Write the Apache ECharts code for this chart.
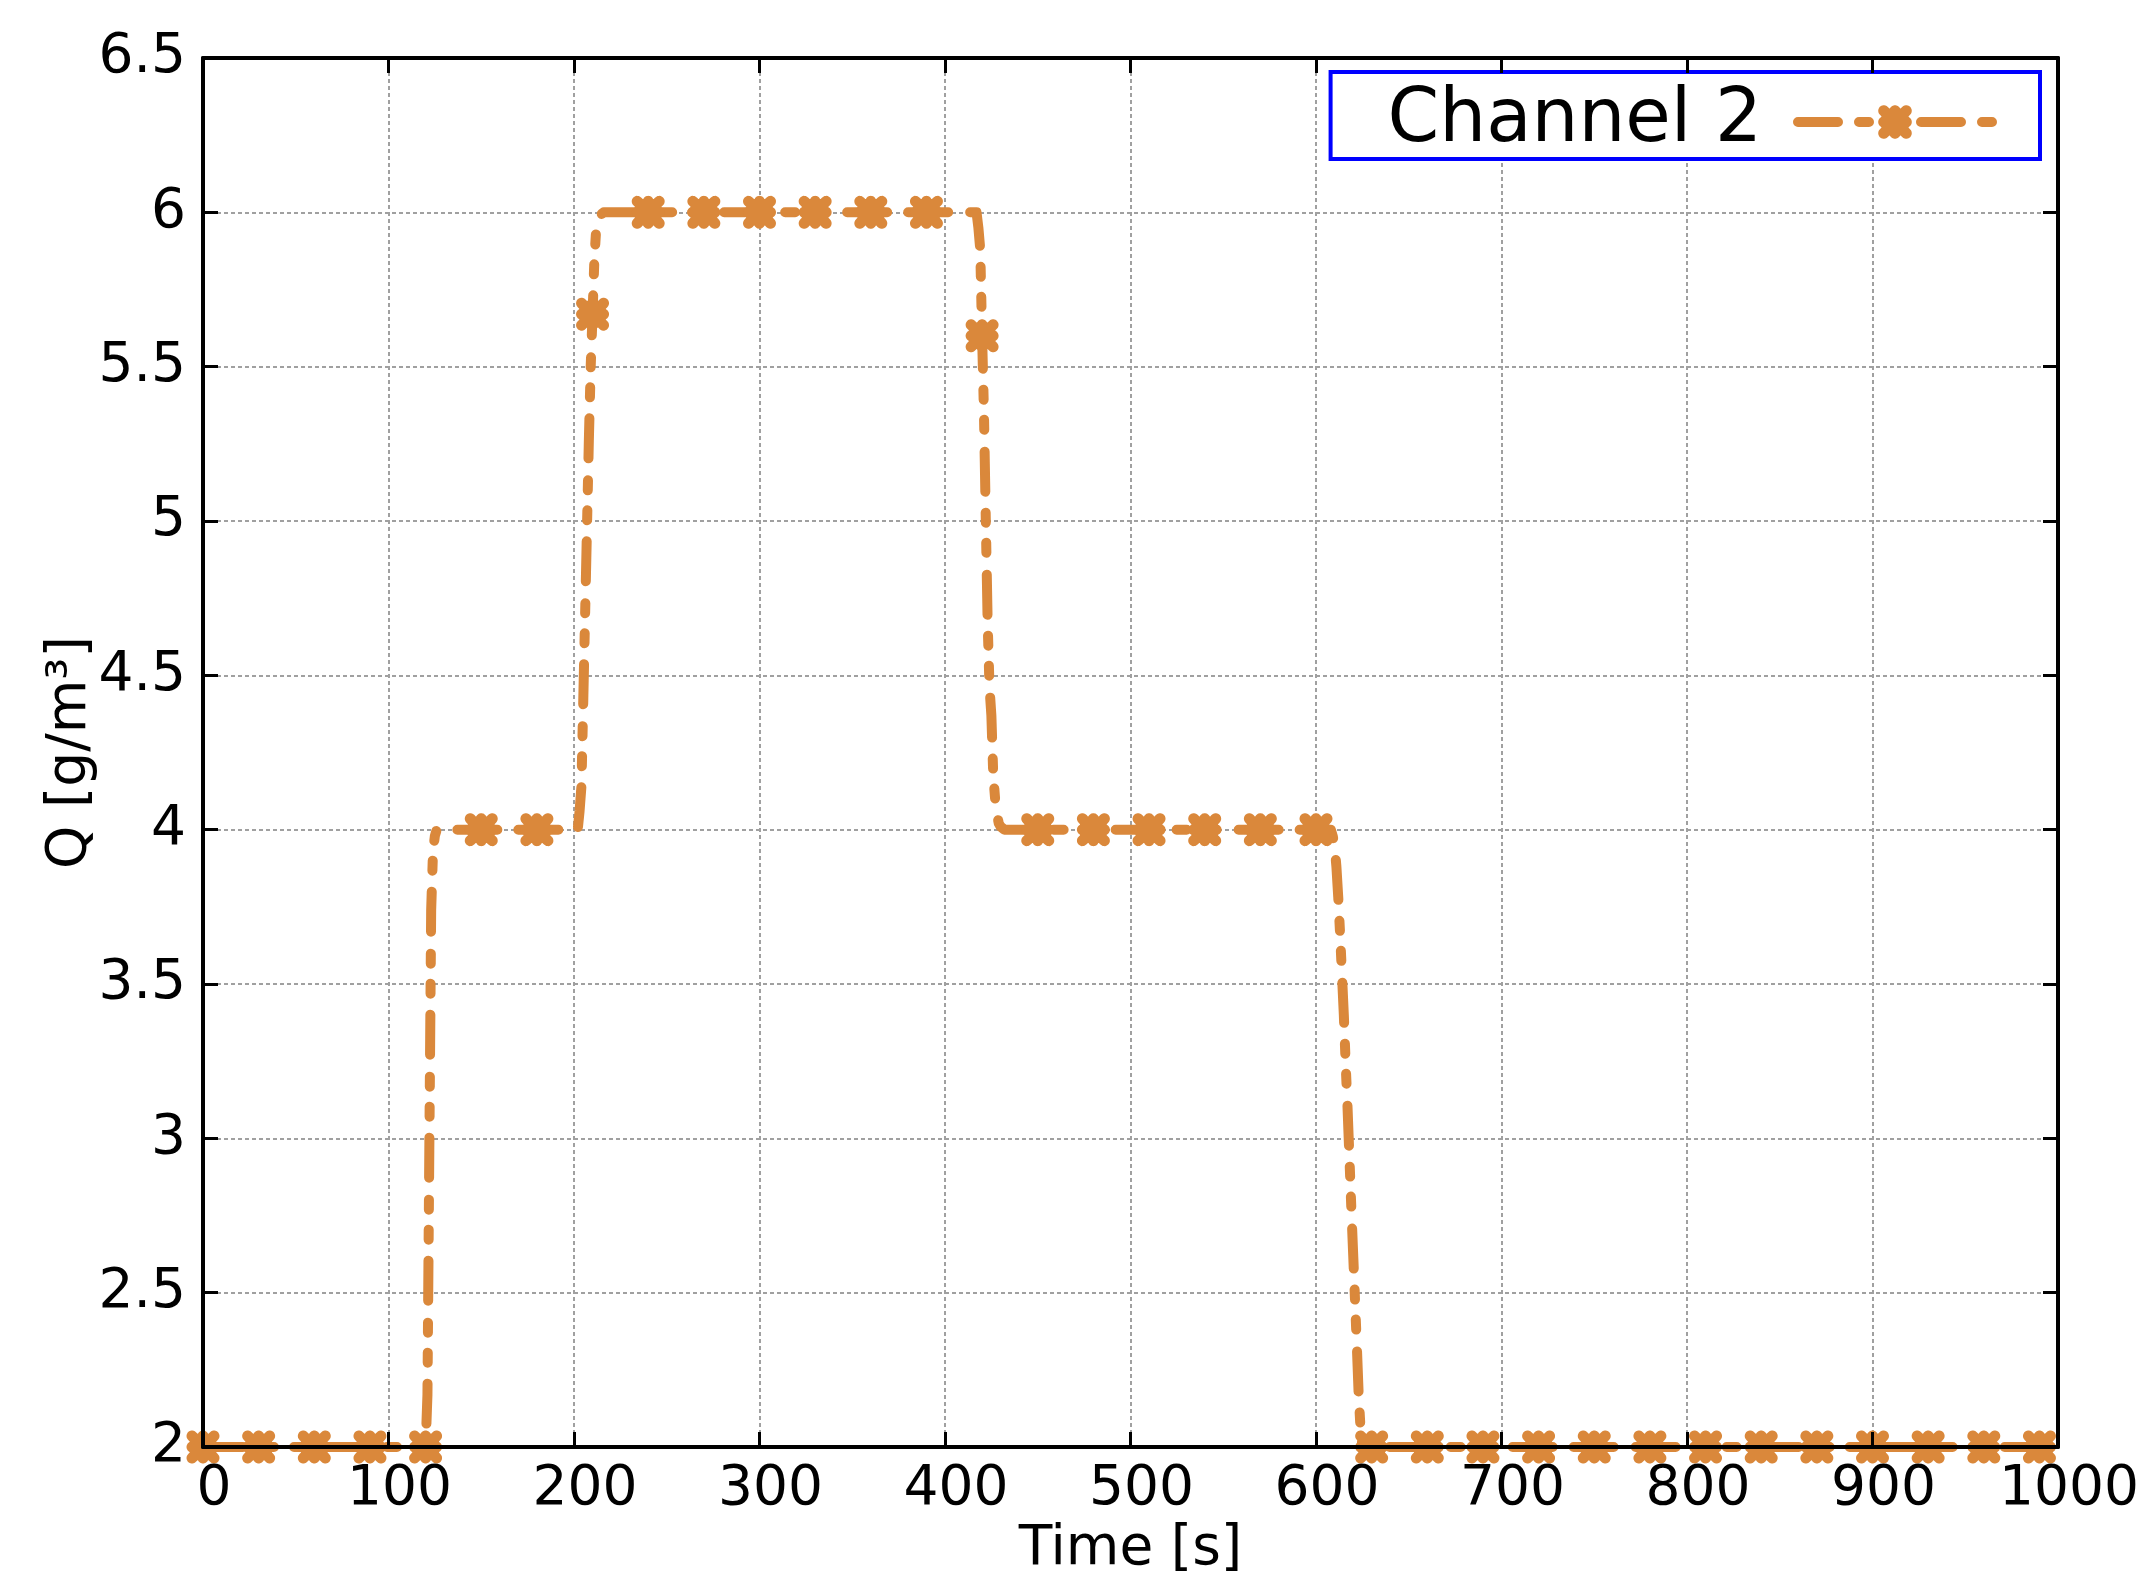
<!DOCTYPE html>
<html>
<head>
<meta charset="utf-8">
<title>Channel 2</title>
<script src="https://cdn.jsdelivr.net/npm/echarts@6/dist/echarts.min.js"></script>
<style>
html, body { margin: 0; padding: 0; background: #fff; }
#main { width: 2155px; height: 1590px; }
</style>
</head>
<body>
<div id="main"></div>
<script>
// Time [s] and Q [g/m3]
var time = [0, 30, 60, 90, 120, 121, 122, 123, 124, 125, 126, 150, 180,
  202, 203, 204, 205, 206, 207, 208, 209, 210, 211, 212, 213, 214, 216,
  240, 270, 300, 330, 360, 390,
  417, 418, 419, 420, 421, 422, 423, 424, 425, 426, 427, 428, 429, 430, 432,
  450, 480, 510, 540, 570, 600,
  608, 609, 610, 611, 612, 613, 614, 615, 616, 617, 618, 619, 620, 621, 622, 623, 624, 625,
  630, 660, 690, 720, 750, 780, 810, 840, 870, 900, 930, 960, 990, 1000];
var q = [2, 2, 2, 2, 2, 2.17, 2.96, 3.74, 3.93, 3.98, 4, 4, 4,
  4, 4.06, 4.14, 4.42, 4.70, 4.98, 5.26, 5.50, 5.67, 5.85, 5.95, 5.98, 5.99, 6,
  6, 6, 6, 6, 6, 6,
  6, 5.95, 5.88, 5.6, 5.35, 5.0, 4.67, 4.46, 4.37, 4.18, 4.1, 4.05, 4.02, 4.01, 4,
  4, 4, 4, 4, 4, 4,
  4, 3.98, 3.95, 3.88, 3.78, 3.66, 3.53, 3.4, 3.24, 3.1, 2.94, 2.78, 2.63, 2.48, 2.33, 2.17, 2.06, 2,
  2, 2, 2, 2, 2, 2, 2, 2, 2, 2, 2, 2, 2, 2];
var markerStep = 30;   // gnuplot pointinterval: one marker every 30 s

var orange = '#da883b';
var font = 'DejaVu Sans';
var dash = [40, 21, 10, 20, 10, 22];

// gnuplot '*' point: + and x drawn with thick round-capped strokes.
// Trace the outline of that union as one polygon (arm half-length 11, cap radius 5.5).
function starPath() {
  var arms = [[11, 0], [11, 11], [0, 11], [-11, 11], [-11, 0], [-11, -11], [0, -11], [11, -11]];
  var r2 = 5.5 * 5.5;
  function inside(x, y) {
    for (var k = 0; k < arms.length; k++) {
      var px = arms[k][0], py = arms[k][1];
      var s = Math.max(0, Math.min(1, (x * px + y * py) / (px * px + py * py)));
      var dx = x - s * px, dy = y - s * py;
      if (dx * dx + dy * dy <= r2) return true;
    }
    return false;
  }
  var pts = [];
  for (var a = 0; a < 144; a++) {
    var th = a / 144 * 2 * Math.PI, c = Math.cos(th), sn = Math.sin(th), r = 24;
    while (r > 0 && !inside(r * c, r * sn)) r -= 0.05;
    pts.push((17 + r * c).toFixed(2) + ',' + (17 + r * sn).toFixed(2));
  }
  return 'path://M' + pts.join('L') + 'Z';
}
var star = starPath();

var data = time.map(function (t, i) {
  if (t % markerStep === 0 && t < 1000) return [t, q[i]];
  return { value: [t, q[i]], symbol: 'none' };
});

var frameLine = { show: true, onZero: false, lineStyle: { color: '#000', width: 4 } };
var frameTick = { show: true, inside: true, length: 15, lineStyle: { color: '#000', width: 3 } };
var grid = { show: true, lineStyle: { color: '#a0a0a0', width: 2, type: [4, 3] } };
var labelFont = { fontFamily: font, fontSize: 55, color: '#000' };

function xAx(pos, z, extra) {
  return Object.assign({
    type: 'value', min: 0, max: 1000, interval: 100, position: pos, z: z,
    axisLine: { show: false }, axisTick: { show: false },
    axisLabel: { show: false }, splitLine: { show: false }
  }, extra);
}
function yAx(pos, z, extra) {
  return Object.assign({
    type: 'value', min: 2, max: 6.5, interval: 0.5, position: pos, z: z,
    axisLine: { show: false }, axisTick: { show: false },
    axisLabel: { show: false }, splitLine: { show: false }
  }, extra);
}

var myChart = echarts.init(document.getElementById('main'));
myChart.setOption({
  animation: false,
  backgroundColor: '#fff',
  grid: { left: 203, top: 58, right: 97, bottom: 143, containLabel: false },
  legend: {
    data: ['Channel 2'],
    right: 115, top: 72,
    align: 'right',
    selectedMode: false,
    backgroundColor: '#fff',
    borderColor: '#0000ff', borderWidth: 4, borderRadius: 0,
    padding: [13, 43, 0, 57],
    itemWidth: 194, itemHeight: 42,
    textStyle: { fontFamily: font, fontSize: 74, lineHeight: 68, color: '#000', padding: [0, 31, 0, 0] },
    lineStyle: { color: orange, width: 10, type: dash, cap: 'round', join: 'round' },
    itemStyle: { color: orange, borderWidth: 0 }
  },
  xAxis: [
    xAx('bottom', 0, { splitLine: grid }),
    xAx('bottom', 10, {
      axisLine: frameLine, axisTick: frameTick,
      axisLabel: Object.assign({
        show: true, margin: 15, padding: [0, 0, 0, 22],
        formatter: function (v) { return String(v); }
      }, labelFont),
      name: 'Time [s]', nameLocation: 'middle', nameGap: 70,
      nameTextStyle: labelFont
    }),
    xAx('top', 10, { axisLine: frameLine, axisTick: frameTick })
  ],
  yAxis: [
    yAx('left', 0, { splitLine: grid }),
    yAx('left', 10, {
      axisLine: frameLine, axisTick: frameTick,
      axisLabel: Object.assign({ show: true, margin: 17 }, labelFont),
      name: 'Q [g/m³]', nameLocation: 'middle', nameGap: 105,
      nameMoveOverlap: false,
      nameTextStyle: labelFont
    }),
    yAx('right', 10, { axisLine: frameLine, axisTick: frameTick })
  ],
  series: [{
    name: 'Channel 2',
    type: 'line',
    xAxisIndex: 0, yAxisIndex: 0,
    data: data,
    clip: false,
    z: 3,
    symbol: star,
    symbolSize: 33,
    showAllSymbol: true,
    itemStyle: { color: orange, borderWidth: 0 },
    lineStyle: { color: orange, width: 10, type: dash, cap: 'round', join: 'round' },
    emphasis: { disabled: true }
  }]
});
</script>
</body>
</html>
